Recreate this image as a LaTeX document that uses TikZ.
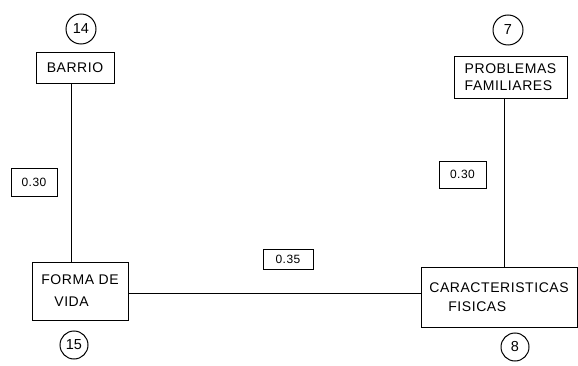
\documentclass[tikz,border=0pt]{standalone}
\usepackage{fontspec}
\setmainfont{Liberation Sans}
\newfontfamily\boxfont[LetterSpace=4]{Liberation Sans}
\begin{document}
\begin{tikzpicture}[x=1pt,y=-1pt,line width=0.9pt,font=\fontsize{12.5}{15}\selectfont]

	% ==========================================
	% 1. STYLES
	% ==========================================
	\tikzset{
		varbox/.style={draw, line width=0.9pt, inner sep=0pt, text depth=0pt, font=\boxfont\fontsize{14}{17}\selectfont},
		coefbox/.style={draw, line width=0.9pt, inner sep=0pt, font=\boxfont\fontsize{12}{13}\selectfont},
		numcirc/.style={draw, circle, line width=1pt, inner sep=0pt, font=\fontsize{14.5}{16}\selectfont},
		link/.style={line width=1pt}
	}

	% fondo / margenes
	\useasboundingbox (0,0) rectangle (578,366);

	% ==========================================
	% 2. VARIABLES (CAJAS)
	% ==========================================
	\node[varbox, minimum width=78pt, minimum height=31pt] (barrio) at (75,67.5) {BARRIO};
	\node[varbox, minimum width=96pt, minimum height=58pt, align=left, font=\boxfont\fontsize{14}{22}\selectfont] (forma) at (80,291)
		{FORMA DE\\\hspace*{13pt}VIDA};
	\node[varbox, minimum width=113pt, minimum height=42pt, align=left] (probl) at (510.5,77)
		{PROBLEMAS\\FAMILIARES};
	\node[varbox, minimum width=156pt, minimum height=60pt, align=left, font=\boxfont\fontsize{14}{19}\selectfont] (carac) at (499,297)
		{CARACTERISTICAS\\\hspace*{19pt}FISICAS};

	% ==========================================
	% 3. NUMEROS EN CIRCULOS
	% ==========================================
	\node[numcirc, minimum size=30pt] (n14) at (81,29) {14};
	\node[numcirc, minimum size=28pt] (n15) at (74,345) {15};
	\node[numcirc, minimum size=30pt] (n7) at (508,30) {7};
	\node[numcirc, minimum size=28pt] (n8) at (515,347) {8};

	% ==========================================
	% 4. CONEXIONES
	% ==========================================
	\draw[link] ([xshift=-4pt]barrio.south) -- ([xshift=-4pt]barrio.south |- forma.north);
	\draw[link] ([yshift=-2pt]forma.east) -- ([yshift=-2pt]forma.east -| carac.west);
	\draw[link] ([xshift=-6pt]probl.south) -- ([xshift=-6pt]probl.south |- carac.north);

	% ==========================================
	% 5. COEFICIENTES
	% ==========================================
	\node[coefbox, minimum width=46pt, minimum height=28pt] (c1) at (34,182) {0.30};
	\node[coefbox, minimum width=50pt, minimum height=20pt] (c2) at (288,259) {0.35};
	\node[coefbox, minimum width=47pt, minimum height=27pt] (c3) at (462.5,174.5) {0.30};

\end{tikzpicture}
\end{document}
